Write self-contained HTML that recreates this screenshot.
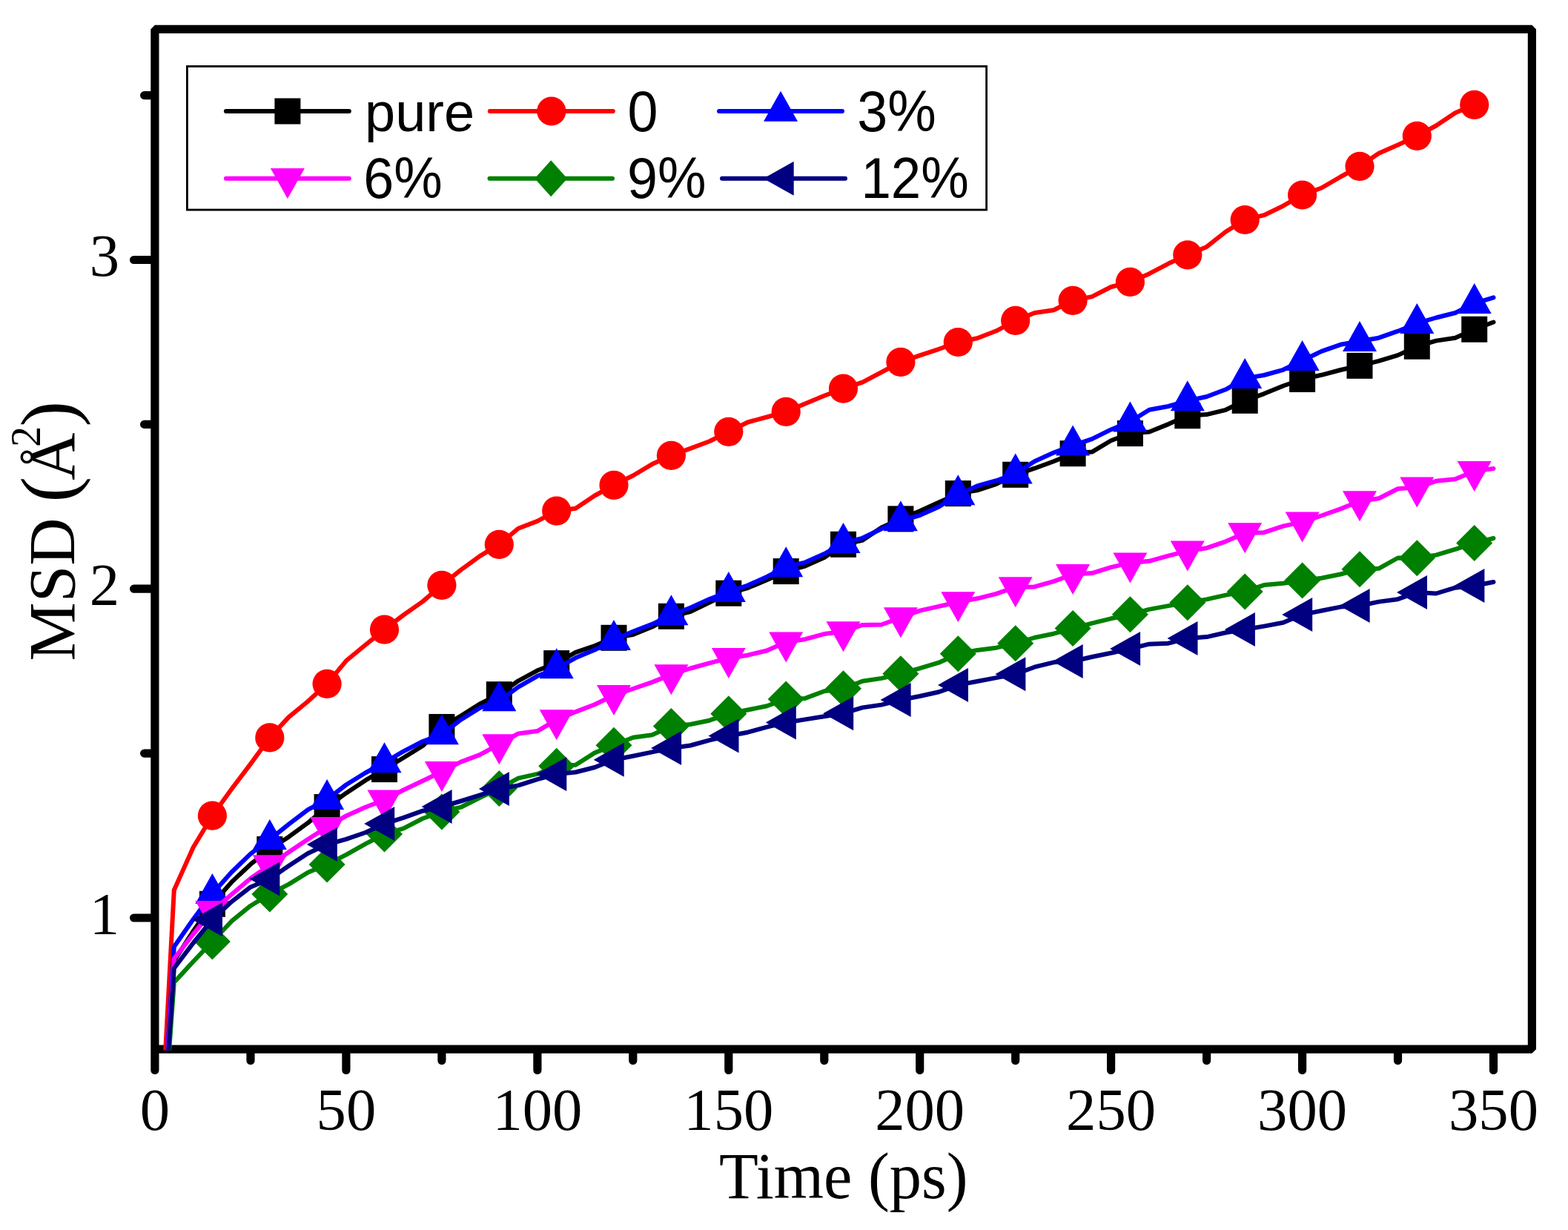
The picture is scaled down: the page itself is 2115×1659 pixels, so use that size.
<!DOCTYPE html>
<html><head><meta charset="utf-8"><title>MSD vs Time</title>
<style>html,body{margin:0;padding:0;background:#fff;}svg{display:block;}</style></head>
<body>
<svg width="2115" height="1659" viewBox="0 0 2115 1659">
<defs><clipPath id="pc"><rect x="208.9" y="39.4" width="1857.5" height="1377.2"/></clipPath></defs>
<rect width="2115" height="1659" fill="#fff"/>
<rect x="252.4" y="89.5" width="1078.2" height="193.5" fill="#fff" stroke="#000" stroke-width="2.8"/>
<path d="M466.9,1420.5V1443.5 M724.9,1420.5V1443.5 M982.8,1420.5V1443.5 M1240.7,1420.5V1443.5 M1498.6,1420.5V1443.5 M1756.6,1420.5V1443.5 M2014.5,1420.5V1443.5 M338.0,1420.5V1430.5 M595.9,1420.5V1430.5 M853.8,1420.5V1430.5 M1111.8,1420.5V1430.5 M1369.7,1420.5V1430.5 M1627.6,1420.5V1430.5 M1885.5,1420.5V1430.5 M203.5,1238.0H180.6 M203.5,794.2H180.6 M203.5,350.5H180.6 M203.5,1016.1H194.6 M203.5,572.4H194.6 M203.5,128.6H194.6" stroke="#000" stroke-width="11.2" stroke-linecap="round" fill="none"/>
<path d="M208.9,1443.5V39.4H2066.4V1415.2H208.9" fill="none" stroke="#000" stroke-width="11.2" stroke-linejoin="bevel" stroke-linecap="round"/>
<g clip-path="url(#pc)" fill="none" stroke-linejoin="round" stroke-linecap="round">
<path d="M209.0,1681.8 234.8,1296.0 260.6,1256.0 286.4,1219.3 312.2,1189.9 338.0,1165.7 363.8,1145.5 389.6,1128.7 415.3,1109.9 441.1,1088.6 466.9,1069.7 492.7,1052.7 518.5,1037.6 544.3,1022.0 570.1,1006.0 595.9,980.5 621.7,965.5 647.5,949.2 673.3,936.7 699.1,918.3 724.9,904.3 750.7,894.6 776.4,879.9 802.2,871.1 828.0,860.3 853.8,856.1 879.6,845.5 905.4,831.3 931.2,825.0 957.0,812.6 982.8,800.2 1008.6,793.0 1034.4,782.3 1060.2,770.6 1086.0,763.5 1111.8,751.9 1137.5,734.3 1163.3,728.7 1189.1,711.4 1214.9,699.9 1240.7,689.2 1266.5,677.6 1292.3,665.6 1318.1,661.3 1343.9,652.8 1369.7,640.3 1395.5,631.7 1421.3,622.2 1447.1,611.7 1472.9,609.6 1498.6,594.2 1524.4,584.6 1550.2,582.5 1576.0,572.1 1601.8,560.7 1627.6,559.1 1653.4,552.8 1679.2,540.3 1705.0,531.1 1730.8,520.5 1756.6,511.5 1782.4,505.8 1808.2,499.0 1834.0,493.3 1859.8,486.8 1885.5,479.1 1911.3,467.2 1937.1,459.6 1962.9,455.7 1988.7,444.2 2014.5,434.5" stroke="#000000" stroke-width="6.0"/>
</g>
<g>
<rect x="268.9" y="1201.8" width="35" height="35" fill="#000000"/>
<rect x="346.3" y="1128.0" width="35" height="35" fill="#000000"/>
<rect x="423.6" y="1071.1" width="35" height="35" fill="#000000"/>
<rect x="501.0" y="1020.1" width="35" height="35" fill="#000000"/>
<rect x="578.4" y="963.0" width="35" height="35" fill="#000000"/>
<rect x="655.8" y="919.2" width="35" height="35" fill="#000000"/>
<rect x="733.2" y="877.1" width="35" height="35" fill="#000000"/>
<rect x="810.5" y="842.8" width="35" height="35" fill="#000000"/>
<rect x="887.9" y="813.8" width="35" height="35" fill="#000000"/>
<rect x="965.3" y="782.7" width="35" height="35" fill="#000000"/>
<rect x="1042.7" y="753.1" width="35" height="35" fill="#000000"/>
<rect x="1120.0" y="716.8" width="35" height="35" fill="#000000"/>
<rect x="1197.4" y="682.4" width="35" height="35" fill="#000000"/>
<rect x="1274.8" y="648.1" width="35" height="35" fill="#000000"/>
<rect x="1352.2" y="622.8" width="35" height="35" fill="#000000"/>
<rect x="1429.6" y="594.2" width="35" height="35" fill="#000000"/>
<rect x="1506.9" y="567.1" width="35" height="35" fill="#000000"/>
<rect x="1584.3" y="543.2" width="35" height="35" fill="#000000"/>
<rect x="1661.7" y="522.8" width="35" height="35" fill="#000000"/>
<rect x="1739.1" y="494.0" width="35" height="35" fill="#000000"/>
<rect x="1816.5" y="475.8" width="35" height="35" fill="#000000"/>
<rect x="1893.8" y="449.7" width="35" height="35" fill="#000000"/>
<rect x="1971.2" y="426.7" width="35" height="35" fill="#000000"/>
</g>
<g clip-path="url(#pc)" fill="none" stroke-linejoin="round" stroke-linecap="round">
<path d="M209.0,1681.8 234.8,1200.5 260.6,1143.0 286.4,1100.2 312.2,1064.6 338.0,1030.4 363.8,994.9 389.6,967.1 415.3,946.0 441.1,922.4 466.9,891.3 492.7,870.0 518.5,849.2 544.3,829.5 570.1,811.4 595.9,789.3 621.7,768.7 647.5,749.9 673.3,734.4 699.1,712.8 724.9,702.9 750.7,689.1 776.4,685.7 802.2,668.5 828.0,654.3 853.8,641.5 879.6,626.1 905.4,614.3 931.2,604.9 957.0,595.2 982.8,582.3 1008.6,569.5 1034.4,562.5 1060.2,555.3 1086.0,544.4 1111.8,533.8 1137.5,524.1 1163.3,515.6 1189.1,502.0 1214.9,488.3 1240.7,479.4 1266.5,470.8 1292.3,461.5 1318.1,456.3 1343.9,446.3 1369.7,432.4 1395.5,422.0 1421.3,418.2 1447.1,405.3 1472.9,400.1 1498.6,387.0 1524.4,380.4 1550.2,369.2 1576.0,355.6 1601.8,343.8 1627.6,332.9 1653.4,312.5 1679.2,296.5 1705.0,290.2 1730.8,277.7 1756.6,263.0 1782.4,253.5 1808.2,238.5 1834.0,224.4 1859.8,206.7 1885.5,195.4 1911.3,183.4 1937.1,169.5 1962.9,152.2 1988.7,141.3" stroke="#FF0000" stroke-width="6.0"/>
</g>
<g>
<circle cx="286.4" cy="1100.2" r="19.6" fill="#FF0000"/>
<circle cx="363.8" cy="994.9" r="19.6" fill="#FF0000"/>
<circle cx="441.1" cy="922.4" r="19.6" fill="#FF0000"/>
<circle cx="518.5" cy="849.2" r="19.6" fill="#FF0000"/>
<circle cx="595.9" cy="789.3" r="19.6" fill="#FF0000"/>
<circle cx="673.3" cy="734.4" r="19.6" fill="#FF0000"/>
<circle cx="750.7" cy="689.1" r="19.6" fill="#FF0000"/>
<circle cx="828.0" cy="654.3" r="19.6" fill="#FF0000"/>
<circle cx="905.4" cy="614.3" r="19.6" fill="#FF0000"/>
<circle cx="982.8" cy="582.3" r="19.6" fill="#FF0000"/>
<circle cx="1060.2" cy="555.3" r="19.6" fill="#FF0000"/>
<circle cx="1137.5" cy="524.1" r="19.6" fill="#FF0000"/>
<circle cx="1214.9" cy="488.3" r="19.6" fill="#FF0000"/>
<circle cx="1292.3" cy="461.5" r="19.6" fill="#FF0000"/>
<circle cx="1369.7" cy="432.4" r="19.6" fill="#FF0000"/>
<circle cx="1447.1" cy="405.3" r="19.6" fill="#FF0000"/>
<circle cx="1524.4" cy="380.4" r="19.6" fill="#FF0000"/>
<circle cx="1601.8" cy="343.8" r="19.6" fill="#FF0000"/>
<circle cx="1679.2" cy="296.5" r="19.6" fill="#FF0000"/>
<circle cx="1756.6" cy="263.0" r="19.6" fill="#FF0000"/>
<circle cx="1834.0" cy="224.4" r="19.6" fill="#FF0000"/>
<circle cx="1911.3" cy="183.4" r="19.6" fill="#FF0000"/>
<circle cx="1988.7" cy="141.3" r="19.6" fill="#FF0000"/>
</g>
<g clip-path="url(#pc)" fill="none" stroke-linejoin="round" stroke-linecap="round">
<path d="M209.0,1681.8 234.8,1277.0 260.6,1240.0 286.4,1205.4 312.2,1176.5 338.0,1151.6 363.8,1132.4 389.6,1111.7 415.3,1092.2 441.1,1078.4 466.9,1058.5 492.7,1042.5 518.5,1028.5 544.3,1013.3 570.1,1000.0 595.9,990.5 621.7,970.7 647.5,954.7 673.3,945.5 699.1,926.7 724.9,911.8 750.7,901.6 776.4,887.3 802.2,876.6 828.0,863.2 853.8,851.7 879.6,841.9 905.4,829.5 931.2,819.7 957.0,808.1 982.8,798.3 1008.6,789.5 1034.4,777.9 1060.2,764.6 1086.0,758.6 1111.8,747.1 1137.5,732.4 1163.3,725.8 1189.1,713.3 1214.9,702.5 1240.7,695.0 1266.5,683.4 1292.3,667.5 1318.1,655.4 1343.9,648.2 1369.7,638.8 1395.5,622.2 1421.3,610.6 1447.1,600.8 1472.9,592.1 1498.6,579.4 1524.4,568.8 1550.2,552.8 1576.0,548.0 1601.8,540.6 1627.6,535.0 1653.4,525.3 1679.2,510.4 1705.0,506.0 1730.8,498.8 1756.6,486.3 1782.4,473.9 1808.2,464.8 1834.0,460.2 1859.8,455.7 1885.5,446.7 1911.3,436.2 1937.1,428.5 1962.9,422.0 1988.7,409.2 2014.5,401.3" stroke="#0000FF" stroke-width="6.0"/>
</g>
<g>
<path d="M286.4,1178.1L309.4,1219.1L263.4,1219.1Z" fill="#0000FF"/>
<path d="M363.8,1105.1L386.8,1146.1L340.8,1146.1Z" fill="#0000FF"/>
<path d="M441.1,1051.1L464.1,1092.1L418.1,1092.1Z" fill="#0000FF"/>
<path d="M518.5,1001.2L541.5,1042.2L495.5,1042.2Z" fill="#0000FF"/>
<path d="M595.9,963.2L618.9,1004.2L572.9,1004.2Z" fill="#0000FF"/>
<path d="M673.3,918.2L696.3,959.2L650.3,959.2Z" fill="#0000FF"/>
<path d="M750.7,874.3L773.7,915.3L727.7,915.3Z" fill="#0000FF"/>
<path d="M828.0,835.9L851.0,876.9L805.0,876.9Z" fill="#0000FF"/>
<path d="M905.4,802.2L928.4,843.2L882.4,843.2Z" fill="#0000FF"/>
<path d="M982.8,771.0L1005.8,812.0L959.8,812.0Z" fill="#0000FF"/>
<path d="M1060.2,737.3L1083.2,778.3L1037.2,778.3Z" fill="#0000FF"/>
<path d="M1137.5,705.1L1160.5,746.1L1114.5,746.1Z" fill="#0000FF"/>
<path d="M1214.9,675.2L1237.9,716.2L1191.9,716.2Z" fill="#0000FF"/>
<path d="M1292.3,640.2L1315.3,681.2L1269.3,681.2Z" fill="#0000FF"/>
<path d="M1369.7,611.5L1392.7,652.5L1346.7,652.5Z" fill="#0000FF"/>
<path d="M1447.1,573.5L1470.1,614.5L1424.1,614.5Z" fill="#0000FF"/>
<path d="M1524.4,541.5L1547.4,582.5L1501.4,582.5Z" fill="#0000FF"/>
<path d="M1601.8,513.3L1624.8,554.3L1578.8,554.3Z" fill="#0000FF"/>
<path d="M1679.2,483.1L1702.2,524.1L1656.2,524.1Z" fill="#0000FF"/>
<path d="M1756.6,459.0L1779.6,500.0L1733.6,500.0Z" fill="#0000FF"/>
<path d="M1834.0,432.9L1857.0,473.9L1811.0,473.9Z" fill="#0000FF"/>
<path d="M1911.3,408.9L1934.3,449.9L1888.3,449.9Z" fill="#0000FF"/>
<path d="M1988.7,381.9L2011.7,422.9L1965.7,422.9Z" fill="#0000FF"/>
</g>
<g clip-path="url(#pc)" fill="none" stroke-linejoin="round" stroke-linecap="round">
<path d="M209.0,1681.8 234.8,1293.0 260.6,1260.0 286.4,1228.6 312.2,1206.5 338.0,1184.8 363.8,1167.0 389.6,1149.3 415.3,1132.0 441.1,1115.8 466.9,1100.4 492.7,1088.8 518.5,1079.1 544.3,1065.5 570.1,1053.2 595.9,1040.8 621.7,1027.6 647.5,1017.9 673.3,1003.9 699.1,989.4 724.9,986.1 750.7,970.9 776.4,960.1 802.2,950.3 828.0,937.8 853.8,929.0 879.6,920.1 905.4,909.9 931.2,901.5 957.0,894.4 982.8,887.7 1008.6,883.7 1034.4,877.5 1060.2,866.1 1086.0,862.2 1111.8,855.1 1137.5,852.0 1163.3,842.9 1189.1,842.5 1214.9,833.0 1240.7,823.6 1266.5,817.9 1292.3,811.9 1318.1,807.3 1343.9,800.9 1369.7,791.9 1395.5,791.4 1421.3,784.1 1447.1,774.8 1472.9,773.1 1498.6,765.1 1524.4,759.2 1550.2,756.8 1576.0,749.6 1601.8,743.1 1627.6,739.2 1653.4,730.3 1679.2,719.0 1705.0,718.2 1730.8,709.6 1756.6,704.1 1782.4,695.5 1808.2,686.4 1834.0,676.0 1859.8,672.2 1885.5,659.2 1911.3,657.3 1937.1,648.8 1962.9,646.2 1988.7,635.6 2014.5,632.0" stroke="#FF00FF" stroke-width="6.0"/>
</g>
<g>
<path d="M286.4,1255.9L309.4,1214.9L263.4,1214.9Z" fill="#FF00FF"/>
<path d="M363.8,1194.3L386.8,1153.3L340.8,1153.3Z" fill="#FF00FF"/>
<path d="M441.1,1143.1L464.1,1102.1L418.1,1102.1Z" fill="#FF00FF"/>
<path d="M518.5,1106.4L541.5,1065.4L495.5,1065.4Z" fill="#FF00FF"/>
<path d="M595.9,1068.1L618.9,1027.1L572.9,1027.1Z" fill="#FF00FF"/>
<path d="M673.3,1031.2L696.3,990.2L650.3,990.2Z" fill="#FF00FF"/>
<path d="M750.7,998.2L773.7,957.2L727.7,957.2Z" fill="#FF00FF"/>
<path d="M828.0,965.1L851.0,924.1L805.0,924.1Z" fill="#FF00FF"/>
<path d="M905.4,937.2L928.4,896.2L882.4,896.2Z" fill="#FF00FF"/>
<path d="M982.8,915.0L1005.8,874.0L959.8,874.0Z" fill="#FF00FF"/>
<path d="M1060.2,893.4L1083.2,852.4L1037.2,852.4Z" fill="#FF00FF"/>
<path d="M1137.5,879.3L1160.5,838.3L1114.5,838.3Z" fill="#FF00FF"/>
<path d="M1214.9,860.3L1237.9,819.3L1191.9,819.3Z" fill="#FF00FF"/>
<path d="M1292.3,839.2L1315.3,798.2L1269.3,798.2Z" fill="#FF00FF"/>
<path d="M1369.7,819.2L1392.7,778.2L1346.7,778.2Z" fill="#FF00FF"/>
<path d="M1447.1,802.1L1470.1,761.1L1424.1,761.1Z" fill="#FF00FF"/>
<path d="M1524.4,786.5L1547.4,745.5L1501.4,745.5Z" fill="#FF00FF"/>
<path d="M1601.8,770.4L1624.8,729.4L1578.8,729.4Z" fill="#FF00FF"/>
<path d="M1679.2,746.3L1702.2,705.3L1656.2,705.3Z" fill="#FF00FF"/>
<path d="M1756.6,731.4L1779.6,690.4L1733.6,690.4Z" fill="#FF00FF"/>
<path d="M1834.0,703.3L1857.0,662.3L1811.0,662.3Z" fill="#FF00FF"/>
<path d="M1911.3,684.6L1934.3,643.6L1888.3,643.6Z" fill="#FF00FF"/>
<path d="M1988.7,662.9L2011.7,621.9L1965.7,621.9Z" fill="#FF00FF"/>
</g>
<g clip-path="url(#pc)" fill="none" stroke-linejoin="round" stroke-linecap="round">
<path d="M209.0,1681.8 234.8,1325.0 260.6,1297.0 286.4,1270.0 312.2,1242.7 338.0,1221.7 363.8,1206.0 389.6,1192.6 415.3,1176.7 441.1,1166.0 466.9,1152.8 492.7,1138.3 518.5,1125.0 544.3,1117.3 570.1,1104.0 595.9,1095.0 621.7,1088.7 647.5,1075.7 673.3,1063.6 699.1,1049.6 724.9,1043.9 750.7,1033.3 776.4,1031.7 802.2,1015.4 828.0,1005.2 853.8,994.8 879.6,991.3 905.4,979.5 931.2,977.0 957.0,971.7 982.8,962.7 1008.6,957.5 1034.4,952.2 1060.2,942.9 1086.0,941.9 1111.8,932.2 1137.5,928.7 1163.3,918.7 1189.1,914.9 1214.9,908.8 1240.7,901.4 1266.5,893.7 1292.3,881.7 1318.1,876.9 1343.9,873.7 1369.7,867.8 1395.5,860.0 1421.3,854.7 1447.1,847.6 1472.9,840.6 1498.6,834.3 1524.4,828.7 1550.2,821.9 1576.0,817.1 1601.8,812.8 1627.6,808.4 1653.4,802.6 1679.2,797.9 1705.0,789.1 1730.8,786.7 1756.6,783.0 1782.4,779.7 1808.2,774.5 1834.0,767.7 1859.8,766.8 1885.5,752.5 1911.3,752.8 1937.1,748.6 1962.9,740.8 1988.7,732.6 2014.5,726.0" stroke="#008000" stroke-width="6.0"/>
</g>
<g>
<path d="M286.4,1245.5L310.9,1270.0L286.4,1294.5L261.9,1270.0Z" fill="#008000"/>
<path d="M363.8,1181.5L388.3,1206.0L363.8,1230.5L339.3,1206.0Z" fill="#008000"/>
<path d="M441.1,1141.5L465.6,1166.0L441.1,1190.5L416.6,1166.0Z" fill="#008000"/>
<path d="M518.5,1100.5L543.0,1125.0L518.5,1149.5L494.0,1125.0Z" fill="#008000"/>
<path d="M595.9,1070.5L620.4,1095.0L595.9,1119.5L571.4,1095.0Z" fill="#008000"/>
<path d="M673.3,1039.1L697.8,1063.6L673.3,1088.1L648.8,1063.6Z" fill="#008000"/>
<path d="M750.7,1008.8L775.2,1033.3L750.7,1057.8L726.2,1033.3Z" fill="#008000"/>
<path d="M828.0,980.7L852.5,1005.2L828.0,1029.7L803.5,1005.2Z" fill="#008000"/>
<path d="M905.4,955.0L929.9,979.5L905.4,1004.0L880.9,979.5Z" fill="#008000"/>
<path d="M982.8,938.2L1007.3,962.7L982.8,987.2L958.3,962.7Z" fill="#008000"/>
<path d="M1060.2,918.4L1084.7,942.9L1060.2,967.4L1035.7,942.9Z" fill="#008000"/>
<path d="M1137.5,904.2L1162.0,928.7L1137.5,953.2L1113.0,928.7Z" fill="#008000"/>
<path d="M1214.9,884.3L1239.4,908.8L1214.9,933.3L1190.4,908.8Z" fill="#008000"/>
<path d="M1292.3,857.2L1316.8,881.7L1292.3,906.2L1267.8,881.7Z" fill="#008000"/>
<path d="M1369.7,843.3L1394.2,867.8L1369.7,892.3L1345.2,867.8Z" fill="#008000"/>
<path d="M1447.1,823.1L1471.6,847.6L1447.1,872.1L1422.6,847.6Z" fill="#008000"/>
<path d="M1524.4,804.2L1548.9,828.7L1524.4,853.2L1499.9,828.7Z" fill="#008000"/>
<path d="M1601.8,788.3L1626.3,812.8L1601.8,837.3L1577.3,812.8Z" fill="#008000"/>
<path d="M1679.2,773.4L1703.7,797.9L1679.2,822.4L1654.7,797.9Z" fill="#008000"/>
<path d="M1756.6,758.5L1781.1,783.0L1756.6,807.5L1732.1,783.0Z" fill="#008000"/>
<path d="M1834.0,743.2L1858.5,767.7L1834.0,792.2L1809.5,767.7Z" fill="#008000"/>
<path d="M1911.3,728.3L1935.8,752.8L1911.3,777.3L1886.8,752.8Z" fill="#008000"/>
<path d="M1988.7,708.1L2013.2,732.6L1988.7,757.1L1964.2,732.6Z" fill="#008000"/>
</g>
<g clip-path="url(#pc)" fill="none" stroke-linejoin="round" stroke-linecap="round">
<path d="M209.0,1681.8 234.8,1306.0 260.6,1272.0 286.4,1240.2 312.2,1216.3 338.0,1196.4 363.8,1185.5 389.6,1167.8 415.3,1151.0 441.1,1139.0 466.9,1131.8 492.7,1123.0 518.5,1111.1 544.3,1102.9 570.1,1093.7 595.9,1088.0 621.7,1080.5 647.5,1072.4 673.3,1064.0 699.1,1059.4 724.9,1051.2 750.7,1044.1 776.4,1041.5 802.2,1035.0 828.0,1024.7 853.8,1019.7 879.6,1014.4 905.4,1009.0 931.2,1005.5 957.0,998.4 982.8,992.5 1008.6,987.7 1034.4,980.6 1060.2,974.5 1086.0,970.4 1111.8,966.3 1137.5,962.2 1163.3,954.4 1189.1,950.6 1214.9,944.0 1240.7,939.0 1266.5,933.2 1292.3,923.9 1318.1,919.0 1343.9,914.1 1369.7,909.2 1395.5,899.7 1421.3,893.3 1447.1,892.0 1472.9,886.0 1498.6,880.7 1524.4,875.0 1550.2,868.7 1576.0,867.7 1601.8,861.0 1627.6,859.1 1653.4,853.3 1679.2,849.0 1705.0,844.6 1730.8,839.8 1756.6,829.0 1782.4,823.8 1808.2,818.6 1834.0,817.0 1859.8,811.6 1885.5,808.2 1911.3,799.0 1937.1,800.5 1962.9,792.7 1988.7,790.0 2014.5,785.0" stroke="#000080" stroke-width="6.0"/>
</g>
<g>
<path d="M259.0,1240.2L300.0,1217.2L300.0,1263.2Z" fill="#000080"/>
<path d="M336.4,1185.5L377.4,1162.5L377.4,1208.5Z" fill="#000080"/>
<path d="M413.8,1139.0L454.8,1116.0L454.8,1162.0Z" fill="#000080"/>
<path d="M491.2,1111.1L532.2,1088.1L532.2,1134.1Z" fill="#000080"/>
<path d="M568.6,1088.0L609.6,1065.0L609.6,1111.0Z" fill="#000080"/>
<path d="M645.9,1064.0L686.9,1041.0L686.9,1087.0Z" fill="#000080"/>
<path d="M723.3,1044.1L764.3,1021.1L764.3,1067.1Z" fill="#000080"/>
<path d="M800.7,1024.7L841.7,1001.7L841.7,1047.7Z" fill="#000080"/>
<path d="M878.1,1009.0L919.1,986.0L919.1,1032.0Z" fill="#000080"/>
<path d="M955.5,992.5L996.5,969.5L996.5,1015.5Z" fill="#000080"/>
<path d="M1032.8,974.5L1073.8,951.5L1073.8,997.5Z" fill="#000080"/>
<path d="M1110.2,962.2L1151.2,939.2L1151.2,985.2Z" fill="#000080"/>
<path d="M1187.6,944.0L1228.6,921.0L1228.6,967.0Z" fill="#000080"/>
<path d="M1265.0,923.9L1306.0,900.9L1306.0,946.9Z" fill="#000080"/>
<path d="M1342.4,909.2L1383.4,886.2L1383.4,932.2Z" fill="#000080"/>
<path d="M1419.7,892.0L1460.7,869.0L1460.7,915.0Z" fill="#000080"/>
<path d="M1497.1,875.0L1538.1,852.0L1538.1,898.0Z" fill="#000080"/>
<path d="M1574.5,861.0L1615.5,838.0L1615.5,884.0Z" fill="#000080"/>
<path d="M1651.9,849.0L1692.9,826.0L1692.9,872.0Z" fill="#000080"/>
<path d="M1729.2,829.0L1770.2,806.0L1770.2,852.0Z" fill="#000080"/>
<path d="M1806.6,817.0L1847.6,794.0L1847.6,840.0Z" fill="#000080"/>
<path d="M1884.0,799.0L1925.0,776.0L1925.0,822.0Z" fill="#000080"/>
<path d="M1961.4,790.0L2002.4,767.0L2002.4,813.0Z" fill="#000080"/>
</g>
<g clip-path="url(#pc)" fill="none" stroke-linejoin="round" stroke-linecap="round">
</g>
<g font-family="'Liberation Serif', 'Times New Roman', serif" font-size="80.7" fill="#000" text-anchor="middle">
<text x="209.0" y="1523.5">0</text>
<text x="466.9" y="1523.5">50</text>
<text x="724.9" y="1523.5">100</text>
<text x="982.8" y="1523.5">150</text>
<text x="1240.7" y="1523.5">200</text>
<text x="1498.6" y="1523.5">250</text>
<text x="1756.6" y="1523.5">300</text>
<text x="2014.5" y="1523.5">350</text>
</g>
<g font-family="'Liberation Serif', 'Times New Roman', serif" font-size="80.7" fill="#000" text-anchor="end">
<text x="161" y="1259.5">1</text>
<text x="161" y="815.8">2</text>
<text x="161" y="372.0">3</text>
</g>
<text transform="translate(1137.75,1616.1) scale(0.977,1)" font-family="'Liberation Serif', 'Times New Roman', serif" font-size="88.5" text-anchor="middle">Time (ps)</text>
<text transform="translate(100.2,888.9) rotate(-90)" font-family="'Liberation Serif', 'Times New Roman', serif" font-size="89"><tspan x="-2.56">MSD </tspan><tspan x="211.5" font-size="104">(</tspan><tspan x="241.2">Å</tspan><tspan x="285.9" y="-46.6" font-size="56">2</tspan><tspan x="313.5" y="0" font-size="104">)</tspan></text>
<g font-family="'Liberation Sans', Arial, sans-serif" fill="#000">
<line x1="304.9" y1="150.0" x2="470.8" y2="150.0" stroke="#000000" stroke-width="6" stroke-linecap="round"/>
<rect x="370.4" y="132.5" width="35" height="35" fill="#000000"/>
<text transform="translate(492.0,176.6) scale(1.0,1)" font-size="74">pure</text>
<line x1="660.8" y1="150.0" x2="826.8" y2="150.0" stroke="#FF0000" stroke-width="6" stroke-linecap="round"/>
<circle cx="743.8" cy="150.0" r="19.6" fill="#FF0000"/>
<text transform="translate(846.5,176.6) scale(0.957,1)" font-size="77">0</text>
<line x1="970.0" y1="150.0" x2="1136.0" y2="150.0" stroke="#0000FF" stroke-width="6" stroke-linecap="round"/>
<path d="M1053.0,122.7L1076.0,163.7L1030.0,163.7Z" fill="#0000FF"/>
<text transform="translate(1156.2,176.6) scale(0.957,1)" font-size="77">3%</text>
<line x1="304.9" y1="240.8" x2="470.8" y2="240.8" stroke="#FF00FF" stroke-width="6" stroke-linecap="round"/>
<path d="M387.9,268.1L410.9,227.1L364.9,227.1Z" fill="#FF00FF"/>
<text transform="translate(490.2,267.4) scale(0.957,1)" font-size="77">6%</text>
<line x1="660.5" y1="240.8" x2="826.0" y2="240.8" stroke="#008000" stroke-width="6" stroke-linecap="round"/>
<path d="M743.2,216.3L765.2,240.8L743.2,265.3L721.2,240.8Z" fill="#008000"/>
<text transform="translate(845.9,267.4) scale(0.957,1)" font-size="77">9%</text>
<line x1="974.0" y1="240.8" x2="1140.0" y2="240.8" stroke="#000080" stroke-width="6" stroke-linecap="round"/>
<path d="M1029.7,240.8L1070.7,217.8L1070.7,263.8Z" fill="#000080"/>
<text transform="translate(1161.4,267.4) scale(0.943,1)" font-size="77">12%</text>
</g>
</svg>
</body></html>
